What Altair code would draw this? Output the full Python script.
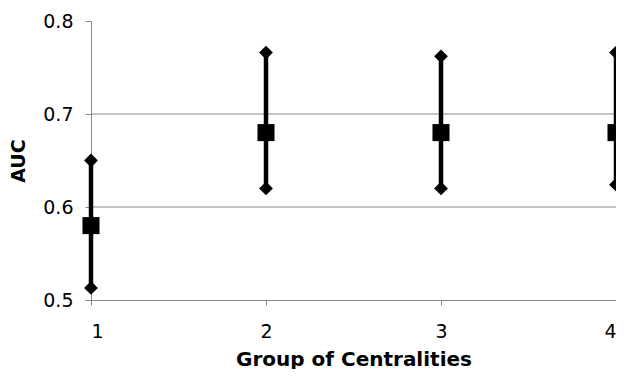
import altair as alt
import pandas as pd

groups = [1, 2, 3, 4]
means = [0.58, 0.68, 0.68, 0.68]
lows = [0.513, 0.62, 0.62, 0.624]
highs = [0.65, 0.766, 0.762, 0.766]
y_ticks = [0.5, 0.6, 0.7, 0.8]
grid_vals = [0.6, 0.7]

df = pd.DataFrame({"group": groups, "mean": means, "low": lows, "high": highs})
ends = pd.DataFrame({"group": groups * 2, "val": lows + highs})
grid = pd.DataFrame({"g": grid_vals})

FONT = "DejaVu Sans"
xs = alt.Scale(domain=[1, 4], nice=False, zero=False)
ys = alt.Scale(domain=[0.5, 0.8], nice=False, zero=False)

x_axis = alt.Axis(values=groups, title="Group of Centralities", format="d",
                  grid=False, tickSize=5, tickColor="#888", domainColor="#888",
                  labelFontSize=19, labelFont=FONT, labelColor="black", labelPadding=17,
                  titleFontSize=20, titleFont=FONT, titleFontWeight="bold", titleColor="black",
                  titleBaseline="alphabetic", titleY=65)
y_axis = alt.Axis(values=y_ticks, title="AUC", format=".1f", grid=False,
                  tickSize=6, tickColor="#888", domainColor="#888",
                  labelFontSize=19, labelFont=FONT, labelColor="black", labelPadding=12,
                  titleFontSize=19, titleFont=FONT, titleFontWeight="bold", titleColor="black",
                  titlePadding=14)

gridlines = alt.Chart(grid).mark_rule(color="#888", strokeWidth=1).encode(
    y=alt.Y("g:Q", scale=ys, axis=y_axis)
)

bars = alt.Chart(df).mark_rule(color="black", strokeWidth=4.5).encode(
    x=alt.X("group:Q", scale=xs, axis=x_axis),
    y=alt.Y("low:Q", scale=ys),
    y2="high:Q",
)

diamonds = alt.Chart(ends).mark_point(shape="diamond", filled=True, color="black",
                                      size=190, opacity=1).encode(
    x=alt.X("group:Q", scale=xs),
    y=alt.Y("val:Q", scale=ys),
)

squares = alt.Chart(df).mark_point(shape="square", filled=True, color="black",
                                   size=290, opacity=1).encode(
    x=alt.X("group:Q", scale=xs),
    y=alt.Y("mean:Q", scale=ys),
)

chart = alt.layer(gridlines, bars, diamonds, squares).properties(
    width=525, height=279,
    autosize=alt.AutoSizeParams(type="none"),
    padding={"left": 83, "top": 13, "right": 0, "bottom": 69},
).configure(background="white").configure_view(stroke=None)

chart.save("out.html", embed_options={"renderer": "svg", "actions": False})
